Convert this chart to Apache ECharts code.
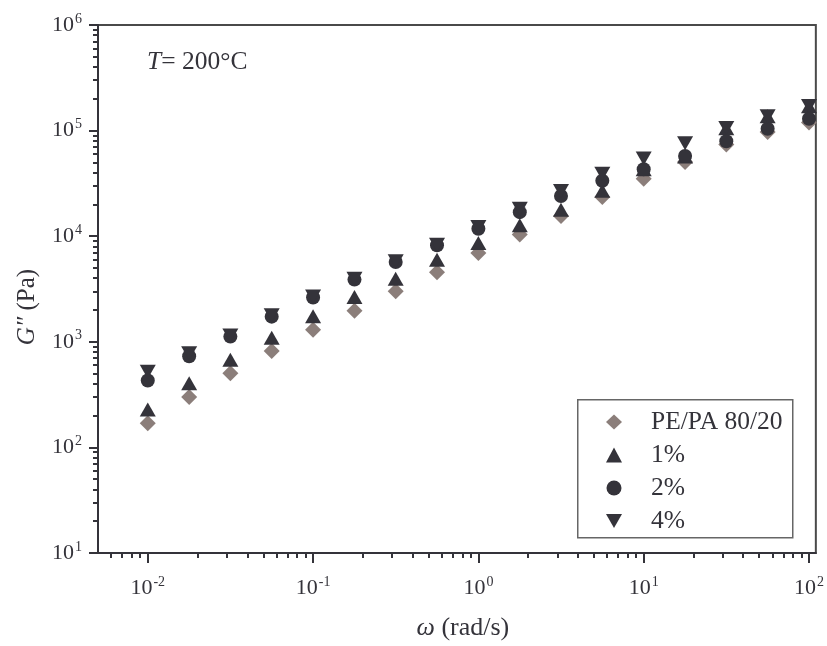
<!DOCTYPE html>
<html style="height: 100%">
<head>
    <meta charset="utf-8">
    <title>G'' vs omega</title>
    <script src="https://cdn.jsdelivr.net/npm/echarts@6/dist/echarts.min.js"></script>
</head>
<body style="height: 100%; margin: 0; background: #fff">
<div id="main" style="width: 827px; height: 646px"></div>

<script type="text/javascript">
    // angular frequency (rad/s)
    var omega = [0.01, 0.0178, 0.0316, 0.0562, 0.1, 0.178, 0.316, 0.562, 1, 1.78, 3.16, 5.62, 10, 17.8, 31.6, 56.2, 100];

    // G'' (Pa)
    var blend = [169, 300, 505, 820, 1300, 1970, 3010, 4550, 6950, 10400, 15500, 23500, 35000, 50500, 74000, 97000, 119000];
    var pct1 = [228, 405, 675, 1090, 1750, 2650, 3950, 6000, 8600, 12700, 17800, 27000, 43000, 57000, 105000, 137000, 170000];
    var pct2 = [430, 730, 1120, 1730, 2630, 3880, 5700, 8200, 11750, 16900, 24000, 33500, 43000, 57500, 79400, 104000, 129500];
    var pct4 = [520, 780, 1150, 1780, 2680, 3950, 5800, 8300, 12200, 18200, 26800, 39000, 54500, 76000, 106000, 137000, 171000];

    var seriesNames = ['PE/PA 80/20', '1%', '2%', '4%'];

    var xMajor = [0.01, 0.1, 1, 10, 100];
    var yMajor = [10, 100, 1000, 10000, 100000, 1000000];
    var minorSteps = [2, 3, 4, 5, 6, 7, 8, 9];

    var FONT = 'Liberation Serif';
    var DARK = '#34333a';
    var BROWN = '#8b7e7a';

    function minorTicks(decades, lo, hi) {
        var out = [];
        decades.forEach(function (d) {
            minorSteps.forEach(function (m) {
                var v = d * m;
                if (v > lo && v < hi) out.push(v);
            });
        });
        return out;
    }

    function pairs(ys) {
        return omega.map(function (x, i) { return [x, ys[i]]; });
    }

    function expLabel(v) {
        var e = Math.round(Math.log(v) / Math.LN10);
        return '{b|10}{e|' + e + '}';
    }

    var labelRich = {
        b: {fontSize: 22, fontFamily: FONT, color: DARK},
        e: {fontSize: 14, fontFamily: FONT, color: DARK, padding: [0, 0, 12, 1]}
    };

    var X_MIN = 0.005, X_MAX = 110, Y_MIN = 10, Y_MAX = 1000000;

    var xMinor = minorTicks([0.001, 0.01, 0.1, 1, 10, 100], X_MIN, X_MAX);
    var yMinor = minorTicks([10, 100, 1000, 10000, 100000], Y_MIN, Y_MAX);

    var myChart = echarts.init(document.getElementById('main'));

    var option = {
        animation: false,
        textStyle: {fontFamily: FONT},
        grid: {
            left: 98, right: 9, top: 25, bottom: 90,
            show: true, borderColor: '#4a4a4a', borderWidth: 2
        },
        xAxis: [
            {
                type: 'log', min: X_MIN, max: X_MAX, position: 'bottom',
                name: '{i|ω} (rad/s)', nameLocation: 'middle', nameGap: 62,
                nameTextStyle: {fontSize: 26, fontFamily: FONT, color: DARK, padding: [0, 0, 0, 12],
                    rich: {i: {fontSize: 26, fontFamily: FONT, fontStyle: 'italic', color: DARK}}},
                axisLine: {lineStyle: {color: DARK, width: 2}},
                axisTick: {length: 10, lineStyle: {color: DARK, width: 2}, customValues: xMajor},
                axisLabel: {customValues: xMajor, margin: 22, formatter: expLabel, rich: labelRich},
                splitLine: {show: false}
            },
            {
                type: 'log', min: X_MIN, max: X_MAX, position: 'bottom',
                axisLine: {show: false},
                axisTick: {length: 5, lineStyle: {color: DARK, width: 2}, customValues: xMinor},
                axisLabel: {show: false},
                splitLine: {show: false}
            }
        ],
        yAxis: [
            {
                type: 'log', min: Y_MIN, max: Y_MAX, position: 'left',
                name: '{i|G″} (Pa)', nameLocation: 'middle', nameGap: 58, nameRotate: 90,
                nameTextStyle: {fontSize: 25, fontFamily: FONT, color: DARK, padding: [0, 36, 0, 0],
                    rich: {i: {fontSize: 25, fontFamily: FONT, fontStyle: 'italic', color: DARK}}},
                axisLine: {lineStyle: {color: DARK, width: 2}},
                axisTick: {length: 9, lineStyle: {color: DARK, width: 2}, customValues: yMajor},
                axisLabel: {customValues: yMajor, margin: 16, formatter: expLabel, rich: labelRich},
                splitLine: {show: false}
            },
            {
                type: 'log', min: Y_MIN, max: Y_MAX, position: 'left',
                axisLine: {show: false},
                axisTick: {length: 5, lineStyle: {color: DARK, width: 2}, customValues: yMinor},
                axisLabel: {show: false},
                splitLine: {show: false}
            }
        ],
        legend: {
            orient: 'vertical', left: 606, top: 409, padding: 0,
            itemWidth: 16, itemHeight: 15, itemGap: 7,
            textStyle: {fontSize: 25.5, fontFamily: FONT, color: DARK, padding: [0, 0, 0, 24]},
            data: seriesNames
        },
        graphic: [
            {
                type: 'rect', left: 577, top: 399, silent: true,
                shape: {width: 215, height: 138},
                style: {fill: '#fff', stroke: '#666', lineWidth: 1.5}
            },
            {
                type: 'text', left: 147, top: 49,
                style: {
                    text: '{i|T}= 200°C', fill: DARK, font: '25.5px ' + FONT,
                    rich: {i: {fontStyle: 'italic', fontSize: 25.5, fontFamily: FONT, color: DARK}}
                }
            }
        ],
        series: [
            {name: seriesNames[0], type: 'scatter', symbol: 'diamond', symbolSize: 16,
                itemStyle: {color: BROWN, opacity: 1}, data: pairs(blend)},
            {name: seriesNames[1], type: 'scatter', symbol: 'triangle', symbolSize: [16, 14],
                itemStyle: {color: DARK, opacity: 1}, data: pairs(pct1)},
            {name: seriesNames[2], type: 'scatter', symbol: 'circle', symbolSize: 14,
                itemStyle: {color: DARK, opacity: 1}, data: pairs(pct2)},
            {name: seriesNames[3], type: 'scatter', symbol: 'path://M0,0L16,0L8,14Z', symbolSize: [16, 14],
                itemStyle: {color: DARK, opacity: 1}, data: pairs(pct4)}
        ]
    };
    myChart.setOption(option, true);
</script>
</body>
</html>
